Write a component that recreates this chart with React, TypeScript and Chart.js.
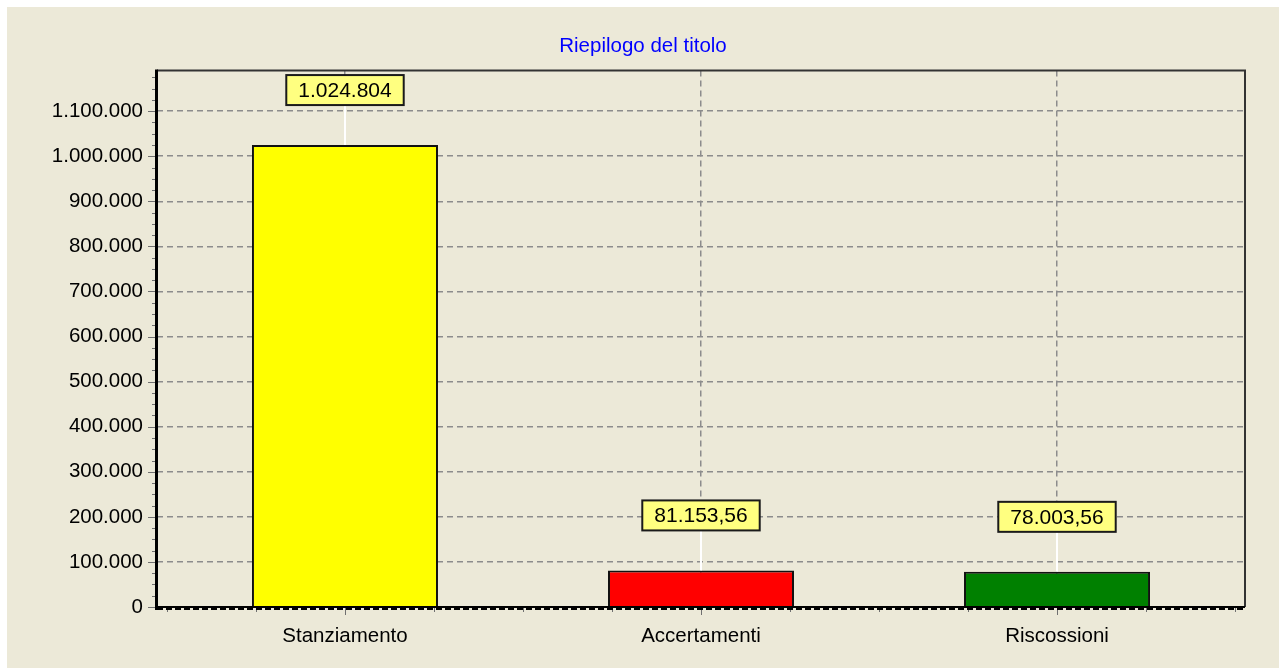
import React, { useEffect, useRef } from "react";
import { Chart, registerables } from "chart.js";

Chart.register(...registerables);

const titleText = "Riepilogo del titolo";
const categories = ["Stanziamento", "Accertamenti", "Riscossioni"];
const values = [1024804, 81153.56, 78003.56];
const barColors = ["#FFFF00", "#FF0000", "#008000"];
const yMax = 1190000;
const yStep = 100000;
const yMinorStep = 25000;
const xMinorStep = 0.25;

const FONT = "'Liberation Sans', Arial, sans-serif";
const BG = "#ECE9D8";

function fmtIt(v: number): string {
  const neg = v < 0;
  const a = Math.abs(v);
  const isInt = Math.abs(a - Math.round(a)) < 1e-9;
  const intPart = isInt ? Math.round(a) : Math.floor(a);
  const s = String(intPart).replace(/\B(?=(\d{3})+(?!\d))/g, ".");
  let out = s;
  if (!isInt) {
    const dec = Math.round((a - intPart) * 100);
    out = s + "," + String(dec).padStart(2, "0");
  }
  return (neg ? "-" : "") + out;
}

export default function App() {
  const ref = useRef<HTMLCanvasElement | null>(null);

  useEffect(() => {
    if (!ref.current) return;

    const bgPlugin = {
      id: "bg",
      beforeDraw(chart: any) {
        const { ctx, width, height } = chart;
        ctx.save();
        ctx.fillStyle = BG;
        ctx.fillRect(0, 0, width, height);
        ctx.restore();
      },
    };

    const decoPlugin = {
      id: "deco",
      afterDatasetsDraw(chart: any) {
        const { ctx, chartArea } = chart;
        const { left, right, top, bottom } = chartArea;
        const xs = chart.scales.x;
        const ys = chart.scales.y;
        ctx.save();

        // minor / major ticks on y axis
        ctx.strokeStyle = "#707070";
        ctx.lineWidth = 1;
        for (let v = 0; v <= yMax; v += yMinorStep) {
          const y = Math.round(ys.getPixelForValue(v)) + 0.5;
          const major = v % yStep === 0;
          ctx.beginPath();
          ctx.moveTo(left - (major ? 9 : 5), y);
          ctx.lineTo(left - 1, y);
          ctx.stroke();
        }
        // minor / major ticks on x axis
        for (let v = -0.5; v <= 2.5 + 1e-9; v += xMinorStep) {
          const x = Math.round(xs.getPixelForValue(v)) + 0.5;
          const major = Math.abs(v - Math.round(v)) < 1e-9;
          ctx.beginPath();
          ctx.moveTo(x, bottom + 1);
          ctx.lineTo(x, bottom + (major ? 8 : 5));
          ctx.stroke();
        }

        // frame: top and right
        ctx.strokeStyle = "#333333";
        ctx.lineWidth = 2;
        ctx.beginPath();
        ctx.moveTo(left, top);
        ctx.lineTo(right, top);
        ctx.lineTo(right, bottom);
        ctx.stroke();

        // bottom axis (thick, dashed look)
        ctx.strokeStyle = "#000000";
        ctx.lineWidth = 2;
        ctx.beginPath();
        ctx.moveTo(left, bottom);
        ctx.lineTo(right, bottom);
        ctx.stroke();
        ctx.setLineDash([6, 3]);
        ctx.lineWidth = 2;
        ctx.beginPath();
        ctx.moveTo(left, bottom + 2);
        ctx.lineTo(right, bottom + 2);
        ctx.stroke();
        ctx.setLineDash([]);

        // left axis
        ctx.lineWidth = 3;
        ctx.beginPath();
        ctx.moveTo(left - 0.5, top - 1);
        ctx.lineTo(left - 0.5, bottom + 3);
        ctx.stroke();

        // value labels
        const meta = chart.getDatasetMeta(0);
        ctx.font = `21px ${FONT}`;
        ctx.textAlign = "center";
        ctx.textBaseline = "middle";
        meta.data.forEach((bar: any, i: number) => {
          const text = fmtIt(values[i]);
          const tw = ctx.measureText(text).width;
          const bw = tw + 24;
          const bh = 30;
          const cx = Math.round(bar.x);
          const barTop = bar.y - 1;
          const boxBottom = barTop - 39;
          const boxTop = boxBottom - bh;
          // connector
          ctx.strokeStyle = "#FFFFFF";
          ctx.lineWidth = 2;
          ctx.beginPath();
          ctx.moveTo(cx, boxBottom);
          ctx.lineTo(cx, barTop + 1);
          ctx.stroke();
          // box
          ctx.fillStyle = "#FFFF80";
          ctx.fillRect(cx - bw / 2, boxTop, bw, bh);
          ctx.strokeStyle = "#1a1a1a";
          ctx.lineWidth = 2;
          ctx.strokeRect(cx - bw / 2, boxTop, bw, bh);
          ctx.fillStyle = "#000000";
          ctx.fillText(text, cx, boxTop + bh / 2 + 1);
        });

        ctx.restore();
      },
    };

    const chart = new Chart(ref.current, {
      type: "bar",
      data: {
        datasets: [
          {
            data: values.map((v, i) => ({ x: i, y: v })),
            backgroundColor: barColors,
            borderColor: "#111111",
            borderWidth: 2,
            barPercentage: 0.5225,
            categoryPercentage: 1,
          } as any,
        ],
      },
      options: {
        animation: false,
        responsive: false,
        maintainAspectRatio: false,
        layout: { padding: { left: 0, right: 0, top: 0, bottom: 0 } },
        plugins: {
          legend: { display: false },
          tooltip: { enabled: false },
          title: {
            display: true,
            text: titleText,
            color: "#0000FF",
            font: { family: FONT, size: 20.5, weight: "normal" },
            padding: { top: 27, bottom: 12 },
          },
        },
        scales: {
          x: {
            type: "linear",
            offset: false,
            min: -0.528,
            max: 2.528,
            afterBuildTicks(scale: any) {
              scale.ticks = categories.map((_, i) => ({ value: i }));
            },
            afterFit(scale: any) {
              scale.height = 61;
            },
            ticks: {
              callback: (v: any) => categories[Math.round(Number(v))] ?? "",
              color: "#000000",
              font: { family: FONT, size: 20.5 },
              padding: 17,
              maxRotation: 0,
              autoSkip: false,
            },
            grid: {
              offset: false,
              color: "#8c8c8c",
              lineWidth: 1.5,
              drawTicks: false,
            },
            border: { display: false, dash: [6, 4] },
          },
          y: {
            type: "linear",
            min: 0,
            max: yMax,
            afterBuildTicks(scale: any) {
              const t: any[] = [];
              for (let v = 0; v < yMax; v += yStep) t.push({ value: v });
              scale.ticks = t;
            },
            afterFit(scale: any) {
              scale.width = 150;
            },
            ticks: {
              callback: (v: any) => fmtIt(Number(v)),
              color: "#000000",
              font: { family: FONT, size: 20.5 },
              padding: 14,
            },
            grid: {
              color: "#8c8c8c",
              lineWidth: 1.5,
              drawTicks: false,
            },
            border: { display: false, dash: [6, 4] },
          },
          yRight: {
            type: "linear",
            position: "right",
            display: true,
            min: 0,
            max: yMax,
            afterFit(scale: any) {
              scale.width = 34;
            },
            ticks: { display: false },
            grid: { display: false, drawOnChartArea: false, drawTicks: false },
            border: { display: false },
          },
        },
      },
      plugins: [bgPlugin, decoPlugin],
    } as any);

    return () => chart.destroy();
  }, []);

  return (
    <div
      style={{
        position: "fixed",
        left: 0,
        top: 0,
        width: 1281,
        height: 668,
        background: "#FFFFFF",
        overflow: "hidden",
      }}
    >
      <canvas
        ref={ref}
        width={1272}
        height={661}
        style={{ position: "absolute", left: 7, top: 7, width: 1272, height: 661 }}
      />
    </div>
  );
}
